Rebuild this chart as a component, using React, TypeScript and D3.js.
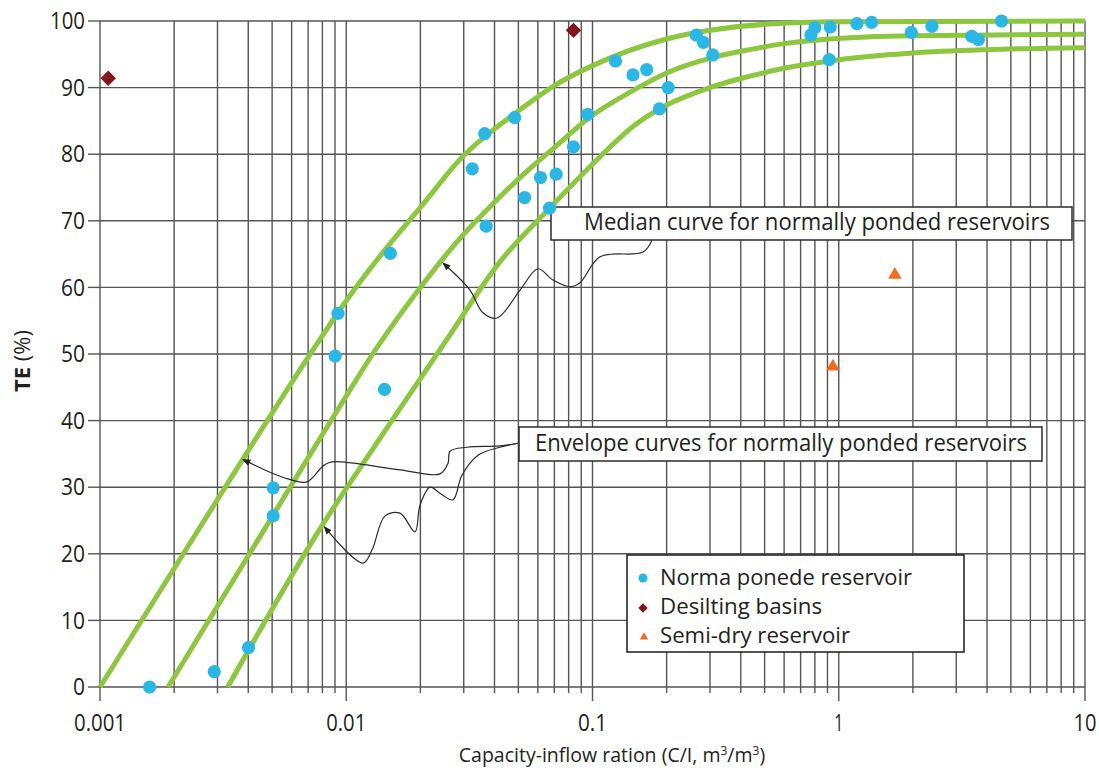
import React from 'react';
import * as d3 from 'd3';

const W = 1099;
const H = 770;
const margin = {top: 21, right: 14, bottom: 83, left: 100};
const FONT = "'Open Sans', Roboto, sans-serif";
const INK = '#231f20';

// axis labels
const xTickValues = [0.001, 0.01, 0.1, 1, 10];
const xTickLabels = ['0.001', '0.01', '0.1', '1', '10'];
const yTickValues = [0, 10, 20, 30, 40, 50, 60, 70, 80, 90, 100];

// trap efficiency curves [C/I, TE%]
const upperEnvelope = [
  [0.001, 0], [0.002, 17.8], [0.004, 35.5], [0.007, 49.5], [0.01, 58],
  [0.015, 66.5], [0.02, 72], [0.03, 79.8], [0.04, 83.8], [0.05, 86.5],
  [0.07, 90.3], [0.1, 93.3], [0.2, 97.3], [0.3, 98.6], [0.5, 99.5], [1, 99.9], [10, 100],
];
const medianCurve = [
  [0.00189, 0], [0.004, 19.7], [0.007, 34.4], [0.01, 43.7], [0.0128, 50],
  [0.02, 60], [0.03, 68], [0.04, 72.8], [0.0555, 77.8], [0.07, 81], [0.0955, 85.3],
  [0.15, 89.8], [0.2, 92.2], [0.307, 94.5], [0.434, 95.7], [0.6, 96.6],
  [0.915, 97.3], [2, 97.8], [10, 98],
];
const lowerEnvelope = [
  [0.0033, 0], [0.0076, 23], [0.0152, 39.8], [0.025, 51.6], [0.042, 63.8],
  [0.067, 71.9], [0.1, 78.5], [0.15, 84.5], [0.187, 86.8], [0.3, 90],
  [0.434, 91.7], [0.6, 92.9], [0.915, 94], [2, 95.2], [4, 95.7], [10, 96],
];

// observations
const normalPonded = [
  [0.00159, 0], [0.00291, 2.3], [0.00401, 5.9], [0.00505, 25.7], [0.00505, 29.9],
  [0.00901, 49.7], [0.00926, 56.1], [0.0143, 44.7], [0.0151, 65.1], [0.0325, 77.8],
  [0.0365, 83.1], [0.037, 69.2], [0.0483, 85.5], [0.053, 73.5], [0.0615, 76.5],
  [0.0669, 71.9], [0.0712, 77.0], [0.0837, 81.1], [0.0957, 86.0], [0.124, 94.0],
  [0.146, 91.9], [0.166, 92.7], [0.187, 86.8], [0.203, 90.0], [0.264, 97.9],
  [0.282, 96.8], [0.308, 94.9], [0.771, 97.9], [0.8, 99.0], [0.915, 94.2],
  [0.924, 99.1], [1.185, 99.6], [1.36, 99.8], [1.97, 98.3], [2.39, 99.2],
  [3.47, 97.7], [3.69, 97.2], [4.58, 100],
];
const desiltingBasins = [[0.00108, 91.4], [0.0837, 98.6]];
const semiDry = [[1.69, 61.9], [0.947, 48.1]];

// hand drawn leader lines (arrow tip first)
const medianLeader = [
  [0.0257, 63.1], [0.0318, 59.6], [0.0359, 56.2], [0.041, 55.4], [0.0508, 59.6],
  [0.0601, 62.8], [0.0691, 61.1], [0.081, 60.1], [0.089, 60.7], [0.1073, 64.6],
  [0.1604, 65.3], [0.1744, 67.1],
];
const envelopeLeaderUpper = [
  [0.00399, 33.8], [0.00553, 31.5], [0.00693, 30.8], [0.00805, 33.2], [0.00875, 33.8],
  [0.01653, 32.6], [0.024, 32.0], [0.0259, 33.6], [0.0264, 35.4], [0.0309, 36.0],
  [0.0421, 36.2], [0.0498, 36.6],
];
const envelopeLeaderLower = [
  [0.00843, 23.4], [0.0117, 18.6], [0.01273, 20.6], [0.01437, 25.7], [0.01653, 26.1],
  [0.01902, 23.3], [0.01993, 27.3], [0.0219, 30.0], [0.024, 29.1], [0.0271, 28.1],
  [0.0295, 31.8], [0.0343, 34.8], [0.0421, 36.0], [0.0498, 36.6],
];

const legendItems = ['Norma ponede reservoir', 'Desilting basins', 'Semi-dry reservoir'];

const GREEN = '#8dc63f';
const BLUE = '#2ab7e5';
const RED = '#80161a';
const ORANGE = '#f26b21';
const GRID = '#555';

export default function App() {
  const x = d3.scaleLog().domain([0.001, 10]).range([margin.left, W - margin.right]);
  const y = d3.scaleLinear().domain([0, 100]).range([H - margin.bottom, margin.top]);

  const gridX = x.ticks();
  const curve = d3
    .line<number[]>()
    .x(d => x(d[0]))
    .y(d => y(d[1]))
    .curve(d3.curveMonotoneX);
  const leader = d3
    .line<number[]>()
    .x(d => x(d[0]))
    .y(d => y(d[1]))
    .curve(d3.curveCatmullRom.alpha(0.5));

  const diamond = d3.symbol().type(d3.symbolDiamond2);
  const triangle = d3.symbol().type(d3.symbolTriangle2);

  const isDecade = (v: number) => xTickValues.some(t => Math.abs(t - v) / t < 1e-6);

  return (
    <div style={{position: 'absolute', left: 0, top: 0}}>
      <svg width={W} height={H} style={{display: 'block', background: '#fff'}}>
        <defs>
          <marker id="arrow" viewBox="0 0 10 10" refX="2" refY="5" markerWidth="7" markerHeight="7"
            orient="auto-start-reverse">
            <path d="M0,1 L10,5 L0,9 z" fill="#222" />
          </marker>
        </defs>

        {/* grid */}
        <g stroke={GRID} strokeWidth={1.4}>
          {gridX.map((v, i) => (
            <line key={'gx' + i} x1={x(v)} x2={x(v)} y1={y(0)}
              y2={y(100)} />
          ))}
          {yTickValues.map(v => (
            <line key={'gy' + v} x1={x(0.001)} x2={x(10)} y1={y(v)} y2={y(v)} />
          ))}
          {/* ticks outside */}
          {yTickValues.map(v => (
            <line key={'ty' + v} x1={x(0.001) - 12} x2={x(0.001)} y1={y(v)} y2={y(v)} />
          ))}
          {gridX.map((v, i) => (
            <line key={'tx' + i} x1={x(v)} x2={x(v)} y1={y(0)}
              y2={y(0) + (isDecade(v) ? 14 : 6)} />
          ))}
        </g>

        {/* curves */}
        <g fill="none" stroke={GREEN} strokeWidth={5}>
          <path d={curve(upperEnvelope) || ''} />
          <path d={curve(medianCurve) || ''} />
          <path d={curve(lowerEnvelope) || ''} />
        </g>

        {/* leaders */}
        <g fill="none" stroke="#2b2b2b" strokeWidth={1.2}>
          <path d={leader(medianLeader) || ''} markerStart="url(#arrow)" />
          <path d={leader(envelopeLeaderUpper) || ''} markerStart="url(#arrow)" />
          <path d={leader(envelopeLeaderLower) || ''} markerStart="url(#arrow)" />
        </g>

        {/* annotation boxes */}
        <g fontFamily={FONT} fill={INK}>
          <rect x={551} y={207} width={521} height={33} fill="#fff" stroke="#2b2b2b" strokeWidth={1.5} />
          <text x={584} y={230} fontSize={23} textLength={466} lengthAdjust="spacingAndGlyphs">
            Median curve for normally ponded reservoirs
          </text>
          <rect x={519} y={427} width={523} height={34} fill="#fff" stroke="#2b2b2b" strokeWidth={1.5} />
          <text x={535} y={451} fontSize={23} textLength={492} lengthAdjust="spacingAndGlyphs">
            Envelope curves for normally ponded reservoirs
          </text>
        </g>

        {/* points */}
        <g fill={BLUE}>
          {normalPonded.map((d, i) => (
            <circle key={i} cx={x(d[0])} cy={y(d[1])} r={6.6} />
          ))}
        </g>
        <g fill={RED}>
          {desiltingBasins.map((d, i) => (
            <path key={i} d={diamond.size(150)() || ''} transform={`translate(${x(d[0])},${y(d[1])})`} />
          ))}
        </g>
        <g fill={ORANGE}>
          {semiDry.map((d, i) => (
            <path key={i} d={triangle.size(130)() || ''} transform={`translate(${x(d[0])},${y(d[1])})`} />
          ))}
        </g>

        {/* legend */}
        <g fontFamily={FONT} fill={INK}>
          <rect x={627} y={555} width={337} height={97} fill="#fff" stroke="#1a1a1a" strokeWidth={1.5} />
          <circle cx={643} cy={578} r={4.5} fill={BLUE} />
          <path d={diamond.size(55)() || ''} transform="translate(643,608)" fill={RED} />
          <path d={triangle.size(50)() || ''} transform="translate(644,637)" fill={ORANGE} />
          {legendItems.map((t, i) => (
            <text key={t} x={660} y={585 + i * 29} fontSize={22}
              textLength={[252, 162, 190][i]} lengthAdjust="spacingAndGlyphs">
              {t}
            </text>
          ))}
        </g>

        {/* tick labels */}
        <g fontFamily={FONT} fill={INK} fontSize={23}>
          {yTickValues.map(v => (
            <text key={'ly' + v} x={x(0.001) - 15} y={y(v)} dy="0.36em" textAnchor="end"
              textLength={v === 100 ? 35 : v === 0 ? 12 : 24} lengthAdjust="spacingAndGlyphs">
              {v}
            </text>
          ))}
          {xTickValues.map((v, i) => (
            <text key={'lx' + v} x={x(v)} y={731} textAnchor="middle"
              textLength={[52, 40, 29, 9, 23][i]} lengthAdjust="spacingAndGlyphs">
              {xTickLabels[i]}
            </text>
          ))}
        </g>

        {/* axis titles */}
        <text x={612} y={762} fontFamily={FONT} fontSize={19.5} fill={INK} textAnchor="middle">
          Capacity-inflow ration (C/I, m<tspan dy={-7} fontSize={12}>3</tspan>
          <tspan dy={7}>/m</tspan><tspan dy={-7} fontSize={12}>3</tspan><tspan dy={7}>)</tspan>
        </text>
        <text transform="translate(30,361) rotate(-90)" fontFamily={FONT} fontSize={22} fill={INK}
          textAnchor="middle">
          <tspan fontWeight="bold">TE</tspan> (%)
        </text>
      </svg>
    </div>
  );
}
